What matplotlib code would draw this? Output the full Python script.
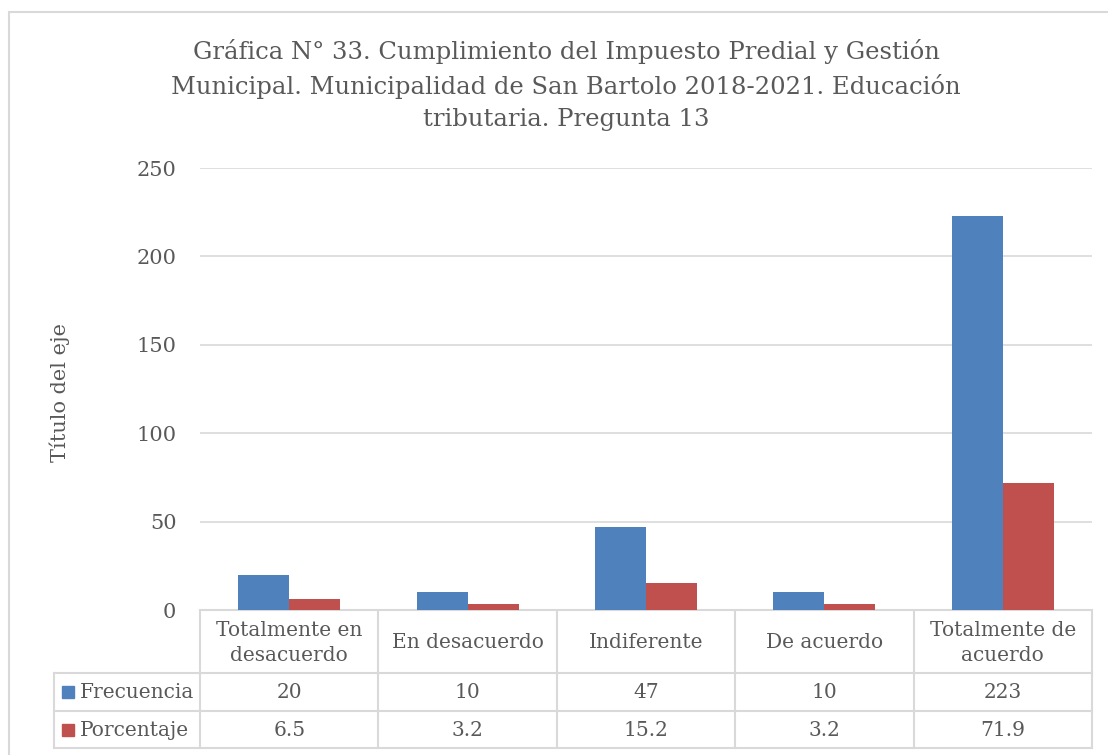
import matplotlib
matplotlib.use("Agg")
import matplotlib.pyplot as plt
from matplotlib.patches import Rectangle
from matplotlib.lines import Line2D
import numpy as np

categories = ["Totalmente en\ndesacuerdo", "En desacuerdo", "Indiferente", "De acuerdo", "Totalmente de\nacuerdo"]
series_names = ["Frecuencia", "Porcentaje"]
frecuencia = [20, 10, 47, 10, 223]
porcentaje = [6.5, 3.2, 15.2, 3.2, 71.9]
freq_labels = ["20", "10", "47", "10", "223"]
pct_labels = ["6.5", "3.2", "15.2", "3.2", "71.9"]
yticks = [0, 50, 100, 150, 200, 250]
title = "Gráfica N° 33. Cumplimiento del Impuesto Predial y Gestión\nMunicipal. Municipalidad de San Bartolo 2018-2021. Educación\ntributaria. Pregunta 13"
ylabel = "Título del eje"

BLUE = "#4F81BD"
RED = "#C0504D"
GRID = "#D9D9D9"
TXT = "#595959"
FONT = "DejaVu Serif"

W, H = 1108, 755
fig = plt.figure(figsize=(W / 100, H / 100), dpi=100)

def fx(px):
    return px / W

def fy(py):
    return 1 - py / H

# outer chart border
fig.add_artist(Rectangle((fx(9), fy(790)), fx(1120 - 9), (790 - 12) / H,
                         fill=False, edgecolor=GRID, linewidth=1.5, transform=fig.transFigure))

left, right, top, bottom = 200, 1092, 168, 610
ax = fig.add_axes([fx(left), fy(bottom), fx(right - left), (bottom - top) / H])
n = len(categories)
x = np.arange(n)
bw = 1 / 3.5
ax.bar(x - bw / 2, frecuencia, bw, color=BLUE, zorder=3)
ax.bar(x + bw / 2, porcentaje, bw, color=RED, zorder=3)
ax.set_xlim(-0.5, n - 0.5)
ax.set_ylim(0, 250)
ax.set_yticks(yticks)
ax.set_yticklabels([str(t) for t in yticks], fontsize=15, color=TXT, family=FONT)
ax.set_xticks([])
ax.tick_params(axis="y", length=0, pad=17)
ax.grid(axis="y", color=GRID, linewidth=1.2, zorder=0)
for s in ["top", "right", "left"]:
    ax.spines[s].set_visible(False)
ax.spines["bottom"].set_color(GRID)
ax.spines["bottom"].set_linewidth(1.5)

fig.text(fx(60), fy(392), ylabel, rotation=90, ha="center", va="center",
         fontsize=15, color=TXT, family=FONT)
fig.text(fx(566), fy(85), title, ha="center", va="center", fontsize=17.5,
         color=TXT, family=FONT, linespacing=1.5)

# data table
col_edges = [left + i * (right - left) / n for i in range(n + 1)]
row_y = [611, 673, 711, 748]
lw = 1.5

def hline(y, x0, x1):
    fig.add_artist(Line2D([fx(x0), fx(x1)], [fy(y), fy(y)], color=GRID, lw=lw, transform=fig.transFigure))

def vline(xp, y0, y1):
    fig.add_artist(Line2D([fx(xp), fx(xp)], [fy(y0), fy(y1)], color=GRID, lw=lw, transform=fig.transFigure))

hline(row_y[1], 54, right)
hline(row_y[2], 54, right)
hline(row_y[3], 54, right)
for c in col_edges:
    vline(c, row_y[0], row_y[3])
vline(54, row_y[1], row_y[3])

TS = 14.5
for i, cat in enumerate(categories):
    cx = (col_edges[i] + col_edges[i + 1]) / 2
    fig.text(fx(cx), fy((row_y[0] + row_y[1]) / 2 + 1), cat, ha="center", va="center",
             fontsize=TS, color=TXT, family=FONT, linespacing=1.45)
    fig.text(fx(cx), fy((row_y[1] + row_y[2]) / 2 + 1), freq_labels[i], ha="center", va="center",
             fontsize=TS, color=TXT, family=FONT)
    fig.text(fx(cx), fy((row_y[2] + row_y[3]) / 2 + 1), pct_labels[i], ha="center", va="center",
             fontsize=TS, color=TXT, family=FONT)

for r, (name, col) in enumerate(zip(series_names, [BLUE, RED])):
    yc = (row_y[1 + r] + row_y[2 + r]) / 2
    fig.add_artist(Rectangle((fx(62), fy(yc + 6)), fx(12), 12 / H, color=col, transform=fig.transFigure))
    fig.text(fx(80), fy(yc + 1), name, ha="left", va="center", fontsize=TS, color=TXT, family=FONT)

fig.savefig("out.png", dpi=100)
